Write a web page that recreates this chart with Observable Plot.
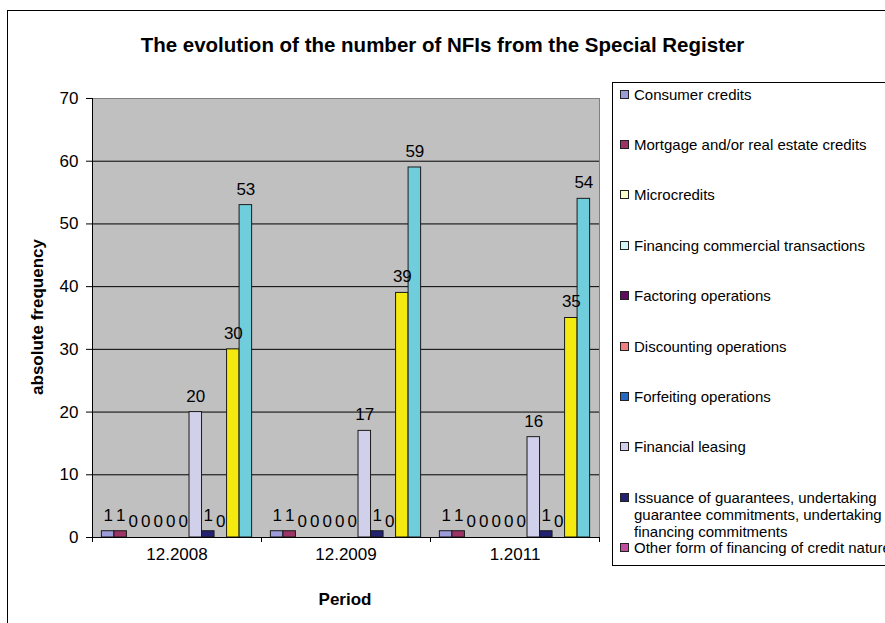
<!DOCTYPE html>
<html>
<head>
<meta charset="utf-8">
<script src="https://cdn.jsdelivr.net/npm/d3@7"></script>
<script src="https://cdn.jsdelivr.net/npm/@observablehq/plot@0.6"></script>
<style>
  html, body { margin: 0; padding: 0; background: #fff; }
  body { width: 885px; height: 623px; overflow: hidden; position: relative;
         font-family: "Liberation Sans", Arial, sans-serif; color: #000; }
  #chart { position: absolute; left: 0; top: 0; }
  .outer { position: absolute; left: 7px; top: 10px; width: 2000px; height: 2000px;
           border: 1px solid #000; box-sizing: border-box; }
  .title { position: absolute; left: 0; width: 885px; top: 33px; text-align: center;
           font-weight: bold; font-size: 20.5px; line-height: 24px; white-space: nowrap; }
  .ylabel { position: absolute; left: 38px; top: 317px; font-weight: bold; font-size: 17px;
            transform: translate(-50%, -50%) rotate(-90deg); white-space: nowrap; }
  .xlabel { position: absolute; left: 345px; top: 600px; font-weight: bold; font-size: 17px;
            transform: translate(-50%, -50%); white-space: nowrap; }
  .legend { position: absolute; left: 612px; top: 82px; width: 400px; height: 484px;
            border: 1px solid #000; box-sizing: border-box; background: #fff; }
  .item { position: absolute; left: 7px; width: 262px; font-size: 15px; line-height: 17px; }
  .item .sw { position: absolute; left: 0; top: 4px; width: 9px; height: 9px;
              border: 1px solid #222; box-sizing: border-box; }
  .item .tx { position: absolute; left: 14px; top: 0; width: 262px; }
</style>
</head>
<body>
<div class="outer"></div>
<div id="chart"></div>
<div class="title" id="title"></div>
<div class="ylabel" id="ylabel"></div>
<div class="xlabel" id="xlabel"></div>
<div class="legend" id="legend"></div>
<script>
// ---- data ----
const titleText = "The evolution of the number of NFIs from the Special Register";
const yTitle = "absolute frequency";
const xTitle = "Period";
const periods = ["12.2008", "12.2009", "1.2011"];
const seriesNames = [
  "Consumer credits",
  "Mortgage and/or real estate credits",
  "Microcredits",
  "Financing commercial transactions",
  "Factoring operations",
  "Discounting operations",
  "Forfeiting operations",
  "Financial leasing",
  "Issuance of guarantees, undertaking guarantee commitments, undertaking financing commitments",
  "Other form of financing of credit nature",
  "Series 11",
  "Series 12"
];
const legendCount = 10; // the last two legend entries fall outside the picture
const consumer = [1, 1, 1];
const mortgage = [1, 1, 1];
const microcredits = [0, 0, 0];
const financingCommercial = [0, 0, 0];
const factoring = [0, 0, 0];
const discounting = [0, 0, 0];
const forfeiting = [0, 0, 0];
const leasing = [20, 17, 16];
const guarantees = [1, 1, 1];
const otherForm = [0, 0, 0];
const series11 = [30, 39, 35];
const series12 = [53, 59, 54];
const yTicks = [0, 10, 20, 30, 40, 50, 60, 70];
const colors = ["#9c9cd8", "#9c3466", "#ffffcc", "#d2f4f6", "#620a62", "#f08080",
                "#2268c4", "#d0d0ea", "#222270", "#c24c9e", "#f5ea10", "#70cedc"];

// ---- build table ----
const seriesValues = [consumer, mortgage, microcredits, financingCommercial, factoring,
  discounting, forfeiting, leasing, guarantees, otherForm, series11, series12];
const rows = seriesNames.flatMap((s, i) =>
  periods.map((p, j) => ({period: p, series: s, value: seriesValues[i][j]})));

// ---- layout ----
const W = 885, H = 623;
const mL = 92, mR = 286, mT = 98, mB = 86;
const facetW = (W - mL - mR) / periods.length;
const padOuter = 0.75;
const step = facetW / (seriesNames.length + 2 * padOuter);
const edge = (padOuter + 0.5) * step;
const first = seriesNames[0], last = seriesNames[seriesNames.length - 1];
const leftEdges = periods.map(p => ({period: p}));

const chart = Plot.plot({
  width: W, height: H,
  marginLeft: mL, marginRight: mR, marginTop: mT, marginBottom: mB,
  style: {fontFamily: "'Liberation Sans', Arial, sans-serif", fontSize: "17px",
          background: "transparent", color: "#000"},
  fx: {domain: periods, padding: 0, round: false, label: null, tickSize: 0, tickPadding: 10},
  x: {domain: seriesNames, paddingInner: 0, paddingOuter: padOuter, round: false, axis: null},
  y: {domain: [0, 70], ticks: yTicks, tickSize: 6, tickPadding: 8, label: null, tickFormat: d => d},
  color: {domain: seriesNames, range: colors},
  marks: [
    Plot.frame({fill: "#c0c0c0", stroke: null, inset: -0.75, shapeRendering: "crispEdges"}),
    Plot.ruleY(yTicks.filter(v => v > 0 && v < 70), {stroke: "#000", strokeWidth: 1}),
    Plot.ruleY([70], {stroke: "#808080"}),
    Plot.barY(rows.filter(d => d.value > 0), {fx: "period", x: "series", y: "value",
      fill: "series", stroke: "#1a1a1a", strokeWidth: 1}),
    Plot.text(rows, {fx: "period", x: "series", y: "value", text: d => String(d.value),
      dy: -16, fontSize: 17, fill: "#000"}),
    Plot.ruleY([0], {stroke: "#000"}),
    // y axis line in the first group, plot border on the right
    Plot.ruleX([{period: periods[0]}], {fx: "period", x: () => first, dx: -edge, y1: 0, y2: 70, stroke: "#000"}),
    Plot.ruleX([{period: periods[periods.length - 1]}], {fx: "period", x: () => last, dx: edge, y1: 0, y2: 70, stroke: "#808080"}),
    // category tick marks on group boundaries
    Plot.ruleX(leftEdges, {fx: "period", x: () => first, dx: -edge, y1: 0, y2: -0.8, stroke: "#000"}),
    Plot.ruleX([{period: periods[periods.length - 1]}], {fx: "period", x: () => last, dx: edge, y1: 0, y2: -0.8, stroke: "#000"})
  ]
});
document.getElementById("chart").appendChild(chart);

document.getElementById("title").textContent = titleText;
document.getElementById("ylabel").textContent = yTitle;
document.getElementById("xlabel").textContent = xTitle;

// ---- legend ----
const legend = document.getElementById("legend");
const legendTop = 82, firstCenter = 94, slot = 50.4;
for (let i = 0; i < legendCount; i++) {
  const item = document.createElement("div");
  item.className = "item";
  item.style.top = (firstCenter + i * slot - 8.5 - legendTop - 1) + "px";
  const sw = document.createElement("div");
  sw.className = "sw";
  sw.style.background = colors[i];
  const tx = document.createElement("div");
  tx.className = "tx";
  tx.textContent = seriesNames[i];
  item.appendChild(sw);
  item.appendChild(tx);
  legend.appendChild(item);
}
</script>
</body>
</html>
